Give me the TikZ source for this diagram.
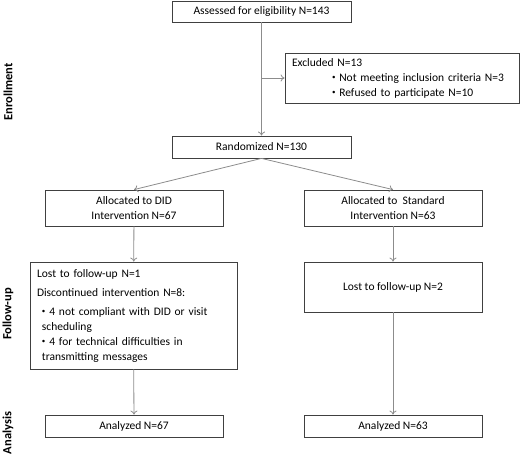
\documentclass[tikz,border=0pt]{standalone}
\usepackage{fontspec}
\setmainfont{Carlito}
\usepackage{tikz}
\usepackage{xcolor}
\usetikzlibrary{arrows.meta}

% small bullet as in the flow chart
\newcommand{\smallbul}{{\fontsize{7}{7}\selectfont\raisebox{0.35ex}{•}}}

\begin{document}
\begin{tikzpicture}[x=1pt, y=1pt,
        box/.style={draw=black!75, line width=0.8pt, inner sep=0pt, align=center,
            font=\fontsize{11.5}{15}\selectfont},
        arr/.style={draw=black!45, line width=0.8pt, -{To[length=4pt, width=7pt]}},
        phase/.style={rotate=90, font=\fontsize{12.5}{14}\selectfont\bfseries}]
    \useasboundingbox (0, 0) rectangle (520, -457);

    % Enrollment
    \node[box, minimum width=179, minimum height=21] (assessed) at (261.5, -11.5) {Assessed for eligibility N=143};
    \node[box, minimum width=234, minimum height=50, align=left, text width=220] (excluded) at (402, -78)
        {Excluded N=13\\
         \hspace*{40pt}\smallbul\ Not meeting inclusion criteria N=3\\
         \hspace*{40pt}\smallbul\ Refused to participate N=10};
    \node[box, minimum width=179, minimum height=22] (randomized) at (261.5, -147) {Randomized N=130};

    % Allocation
    \node[box, minimum width=178, minimum height=36] (allocdid) at (134, -208) {Allocated to DID\\Intervention N=67};
    \node[box, minimum width=178, minimum height=36] (allocstd) at (393, -208) {Allocated to\ \ Standard\\Intervention N=63};

    % Follow-up
    \node[box, minimum width=207, minimum height=107, align=left, text width=193] (lostdid) at (133.5, -315.5)
        {Lost to follow-up N=1\\[4pt]
         Discontinued intervention N=8:\\[4pt]
         \hspace*{5pt}\smallbul\ 4 not compliant with DID or visit\\
         \hspace*{5pt}scheduling\\
         \hspace*{5pt}\smallbul\ 4 for technical difficulties in\\
         \hspace*{5pt}transmitting messages};
    \node[box, minimum width=178, minimum height=50] (loststd) at (393, -287) {Lost to follow-up N=2};

    % Analysis
    \node[box, minimum width=178, minimum height=22] (anadid) at (134, -426) {Analyzed N=67};
    \node[box, minimum width=178, minimum height=22] (anastd) at (393, -426) {Analyzed N=63};

    % Phase labels on left
    \node[phase] (enrol) at (8, -92) {Enrollment};
    \node[phase] (follow) at (8, -314) {Follow-up};
    \node[phase] (analysis) at (8, -433) {Analysis};

    % Arrows
    \draw[arr] (assessed) -- (randomized);
    \draw[arr] (assessed.south |- excluded.west) -- (excluded.west);
    \draw[arr] (randomized.south) -- (allocdid.north);
    \draw[arr] (randomized.south) -- (allocstd.north);
    \draw[arr] (allocdid) -- (lostdid);
    \draw[arr] (allocstd) -- (loststd);
    \draw[arr] (lostdid) -- (anadid);
    \draw[arr] (loststd) -- (anastd);
\end{tikzpicture}
\end{document}
